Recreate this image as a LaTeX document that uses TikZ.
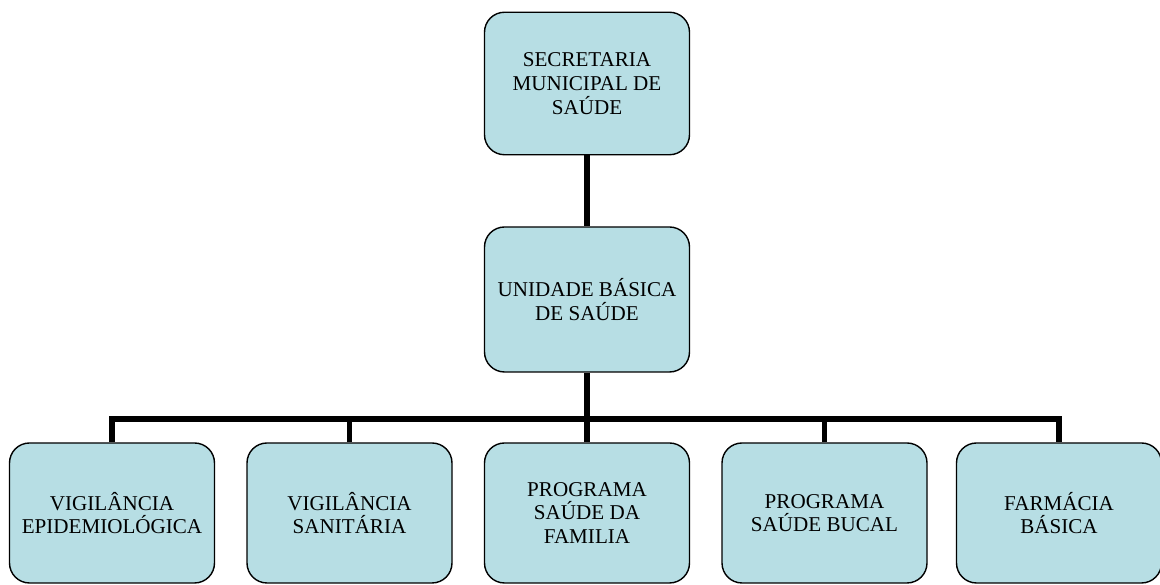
\documentclass[tikz,border=0pt]{standalone}
\usepackage{fontspec}
\setmainfont{Liberation Serif}
\definecolor{boxfill}{RGB}{183,222,228}

\begin{document}
\begin{tikzpicture}[
    unit/.style={draw=black, line width=0.8pt, fill=boxfill, rounded corners=0.4cm,
      minimum width=4.1cm, minimum height=2.85cm, align=center, inner sep=2pt,
      font=\fontsize{12}{13.5}\selectfont},
    link/.style={line width=3pt, line join=miter}
  ]
  \useasboundingbox (0,0) rectangle (23.2,11.7);

  % upper levels
  \node[unit] (sms) at (11.74,10.03) {SECRETARIA\\MUNICIPAL DE\\SAÚDE};
  \node[unit, minimum height=2.9cm] (ubs) at (11.74,5.71) {UNIDADE BÁSICA\\DE SAÚDE};

  % lower level
  \node[unit, minimum height=2.8cm] (vepi) at (2.24,1.44) {VIGILÂNCIA\\EPIDEMIOLÓGICA};
  \node[unit, minimum height=2.8cm] (vsan) at (6.99,1.44) {VIGILÂNCIA\\SANITÁRIA};
  \node[unit, minimum height=2.8cm] (psf) at (11.74,1.44) {PROGRAMA\\SAÚDE DA\\FAMILIA};
  \node[unit, minimum height=2.8cm] (psb) at (16.49,1.44) {PROGRAMA\\SAÚDE BUCAL};
  \node[unit, minimum height=2.8cm] (farm) at (21.18,1.44) {FARMÁCIA\\BÁSICA};

  % connectors
  \coordinate (bar) at (11.74,3.32);
  \draw[link] (sms) -- (ubs);
  \draw[link] (ubs.south) -- (bar);
  \draw[link] (vepi.north) |- (bar) -| (farm.north);
  \foreach \n in {vsan, psf, psb}
    \draw[link] (\n.north) -- (\n.north |- bar);
\end{tikzpicture}
\end{document}
